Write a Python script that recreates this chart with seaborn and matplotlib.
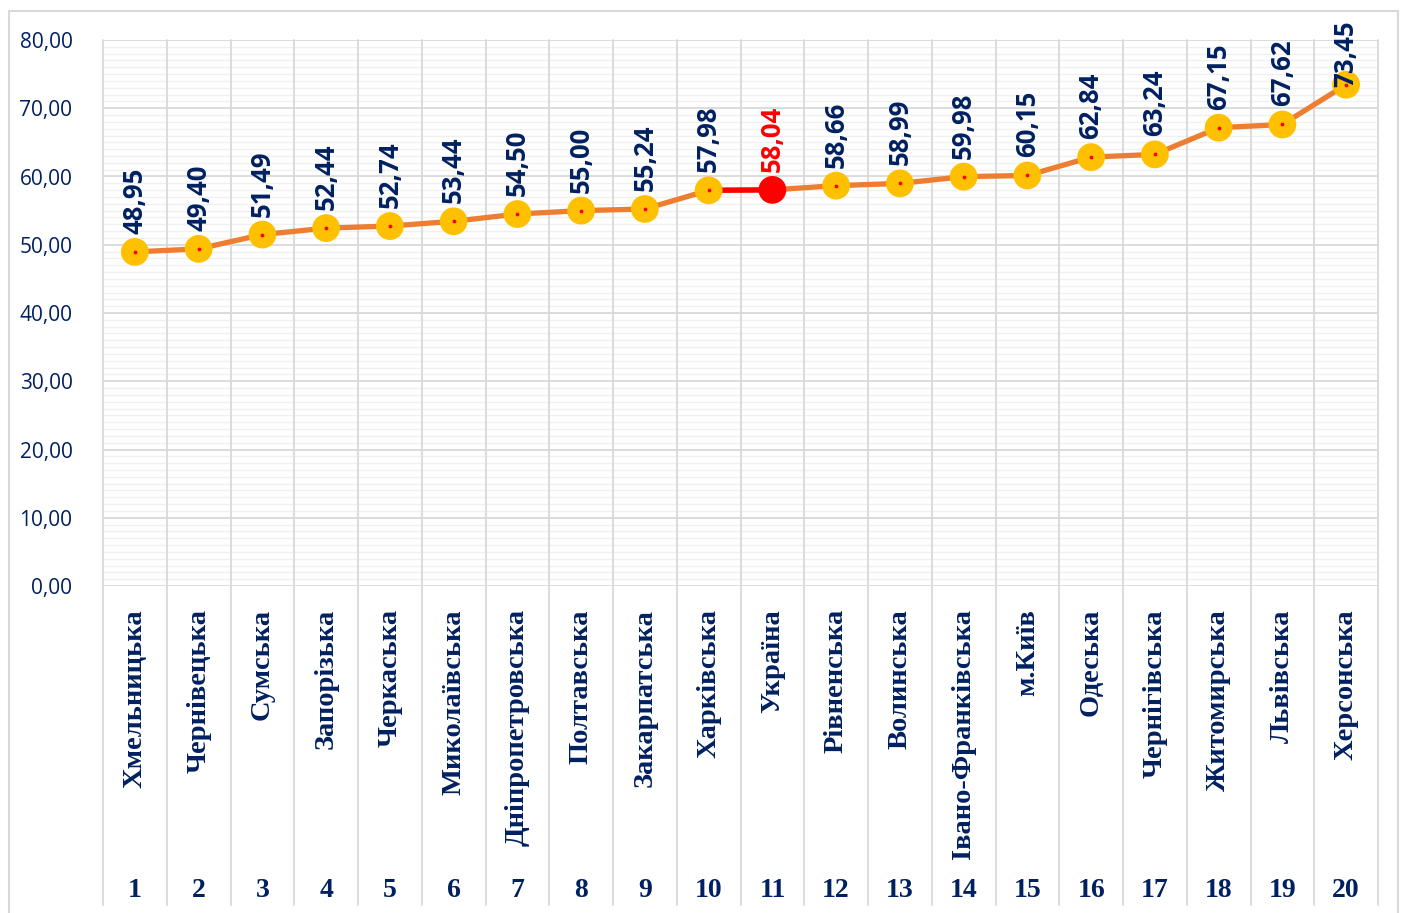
import numpy as np
import pandas as pd
import seaborn as sns
import matplotlib.pyplot as plt
from matplotlib.patches import Rectangle

regions = ['Хмельницька', 'Чернівецька', 'Сумська', 'Запорізька', 'Черкаська',
           'Миколаївська', 'Дніпропетровська', 'Полтавська', 'Закарпатська', 'Харківська',
           'Україна', 'Рівненська', 'Волинська', 'Івано-Франківська', 'м.Київ',
           'Одеська', 'Чернігівська', 'Житомирська', 'Львівська', 'Херсонська']
values = [48.95, 49.40, 51.49, 52.44, 52.74, 53.44, 54.50, 55.00, 55.24, 57.98,
          58.04, 58.66, 58.99, 59.98, 60.15, 62.84, 63.24, 67.15, 67.62, 73.45]
ranks = list(range(1, 21))
highlight = 'Україна'

df = pd.DataFrame({'pos': np.arange(len(regions)), 'region': regions, 'value': values})
hl = df.index[df['region'] == highlight][0]

navy = '#002060'
sns.set_style('white')
plt.rcParams['font.family'] = ['Open Sans', 'DejaVu Sans']

fig = plt.figure(figsize=(14.02, 9.13), dpi=100)
ax = fig.add_axes([103/1402, 1-586/913, (1378-103)/1402, 546/913])

# grid
for y in range(0, 81):
    if y % 10:
        ax.axhline(y, color='#f0f0f0', lw=1.0, zorder=0)
for y in range(0, 81, 10):
    ax.axhline(y, color='#d9d9d9', lw=1.3, zorder=0)
bottom = -(905-586)/546
for b in np.arange(-0.5, len(regions), 1.0):
    ax.plot([b, b], [1, bottom], color='#d9d9d9', lw=1.3,
            transform=ax.get_xaxis_transform(), clip_on=False, zorder=0)

sns.lineplot(data=df, x='pos', y='value', color='#ED7D31', lw=3.8, ax=ax, zorder=2)
ax.plot(df['pos'][hl-1:hl+1], df['value'][hl-1:hl+1], color='#FF0000', lw=3.8, zorder=3)
others = df[df.index != hl]
sns.scatterplot(data=others, x='pos', y='value', color='#FFC000', s=400,
                edgecolor='none', ax=ax, zorder=4)
sns.scatterplot(data=df[df.index == hl], x='pos', y='value', color='#FF0000', s=400,
                edgecolor='none', ax=ax, zorder=4)
ax.scatter(others['pos'], others['value'], color='#FF0000', s=3, zorder=5)

labels = []
for i, row in df.iterrows():
    c = '#FF0000' if i == hl else navy
    t = ax.annotate(f"{row['value']:.2f}".replace('.', ','), (row['pos'], row['value']),
                    xytext=(0, 13), textcoords='offset points', rotation=90,
                    ha='center', va='bottom', fontsize=18.5, fontweight='bold', color=c, zorder=6)
    labels.append(t)

ax.set_xlim(-0.5, len(regions) - 0.5)
ax.set_ylim(0, 80)
ax.set_yticks(range(0, 81, 10))
ax.set_yticklabels([f"{v},00" for v in range(0, 81, 10)], fontsize=15, color=navy)
ax.tick_params(axis='y', length=0, pad=22)
ax.set_xticks([])
ax.set_xlabel('')
ax.set_ylabel('')
for s in ax.spines.values():
    s.set_visible(False)

xt = ax.get_xaxis_transform()
for i, name in enumerate(regions):
    ax.text(i, -(609-586)/546, name, transform=xt, rotation=90, ha='center', va='top',
            fontsize=20.5, fontweight='bold', color=navy, family='Liberation Serif')
    ax.text(i, -(890-586)/546, str(ranks[i]), transform=xt, ha='center', va='center',
            fontsize=20, fontweight='bold', color=navy, family='Liberation Serif')

# keep data labels inside the chart area, like Excel does
fig.canvas.draw()
r = fig.canvas.get_renderer()
limit = fig.bbox.height - 20
for t in labels:
    bb = t.get_window_extent(r)
    if bb.y1 > limit:
        dx, dy = t.get_position() if False else t.xyann
        t.xyann = (dx, dy - (bb.y1 - limit) * 72 / fig.dpi)

fig.patches.append(Rectangle((9/1402, -0.01), 1389/1402, 1-11/913+0.01, transform=fig.transFigure,
                             fill=False, edgecolor='#d9d9d9', lw=1.5))

fig.savefig('out.png', dpi=100)
